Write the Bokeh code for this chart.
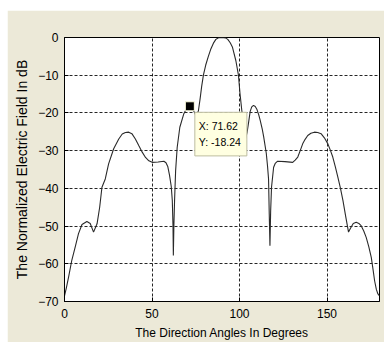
from bokeh.plotting import figure
from bokeh.models import Range1d, FixedTicker, Label
from bokeh.embed import file_html
from bokeh.resources import INLINE

# Direction angle (deg) and normalized field (dB)
angles = [0, 1, 2.3, 4.2, 6.1, 8.0, 10, 12.8, 14.7, 16.6, 18.6, 20.1, 21.4, 23.3,
          25.2, 28.1, 31, 33, 34.8, 36.7, 38.5, 40.5, 42.5, 44.4, 46.3, 48.2, 50.1,
          53.5, 56.8, 58.0, 59.0, 60.0, 61.0, 61.6, 62.0, 62.2, 62.5, 62.9, 63.5,
          64.4, 65.9, 68.2, 70, 71.62, 73, 74.2, 75.2, 76.5, 77.5, 78.4, 79.4, 80.7,
          82.2, 83.5, 85.1, 86.5, 88, 90, 92, 93.3, 94.7, 96, 97.9, 99.4, 100.3,
          101.3, 102.3, 103.4, 104.4, 105.2, 106.1, 107, 108, 109, 109.9, 111, 111.8,
          113, 113.8, 115.3, 116.0, 116.6, 117.0, 117.4, 117.8, 118.3, 119.5, 120.4,
          121.8, 126, 130.4, 131.8, 133.3, 134.7, 136.1, 137.5, 139, 140.8, 142.8,
          144.7, 146.6, 148.5, 150.5, 152, 153.3, 154.7, 156.2, 157.7, 159.1, 160.7,
          162.3, 163.5, 165, 166.7, 168.2, 169.5, 171, 172.4, 173.9, 175.3, 176.3,
          177.2, 178.2, 179.1, 180]
field_db = [-68.5, -66.5, -63.6, -59, -55.6, -52, -49.6, -48.8, -49.3, -51.6, -49.4, -45,
            -39.7, -37.5, -33.5, -29.5, -26.9, -25.6, -25.2, -25.1, -25.5, -26.9, -28.7,
            -30.4, -31.8, -32.7, -33.1, -33.0, -32.8, -33.2, -34.2, -36.5, -39.5, -43.2,
            -50, -57.8, -50, -43.2, -35.3, -29.1, -23.8, -20.2, -18.6, -18.24, -18.9,
            -19.8, -20.8, -19.5, -16.2, -12.9, -9.9, -7.3, -5, -3.2, -1.5, -0.5, -0.05,
            0, -0.1, -0.5, -1.4, -2.6, -6.1, -10, -14.9, -19.3, -22.8, -27, -25,
            -22.5, -19.6, -18.4, -18, -18.3, -19, -20.5, -21.9, -24.3, -26.3, -30.7,
            -34, -37.5, -46.8, -55.2, -46, -39.7, -34.4, -33.4, -32.8, -32.9, -33.1,
            -32.5, -31.7, -30, -28.2, -27, -26, -25.4, -25.1, -25.2, -25.5, -26.6,
            -28.2, -30, -31.7, -34.2, -37, -40, -43.2, -47.5, -51.6, -50.5, -49.3, -49,
            -49.3, -49.9, -51.3, -53, -55.5, -58.3, -61.5, -64.5, -66.8, -68, -68.5]

x_ticks = [0, 50, 100, 150]
y_ticks = [-70, -60, -50, -40, -30, -20, -10, 0]

tip_x = [71.62]
tip_y = [-18.24]
tip_text = "X: 71.62\nY: -18.24"

BG = "#ECE9D8"
FONT = "Liberation Sans"

p = figure(width=377, height=332, output_backend="svg", toolbar_location=None,
           x_range=Range1d(0, 180), y_range=Range1d(-70, 0),
           min_border_left=57, min_border_right=5, min_border_top=27,
           min_border_bottom=40)
p.styles = {"margin-left": "7px", "margin-top": "10px"}
p.border_fill_color = BG
p.background_fill_color = "white"
p.outline_line_color = "black"
p.outline_line_width = 1

p.line(angles, field_db, line_color="#2a2a2a", line_width=1.1)

p.scatter(tip_x, tip_y, marker="square", size=9, fill_color="black",
          line_color="#FFFFE1", line_width=1)

lbl = Label(x=tip_x[0], y=tip_y[0], text=tip_text, x_offset=5, y_offset=-6,
            text_align="left", text_baseline="top", text_font=FONT,
            text_font_size="10.5px", text_color="black",
            background_fill_color="#FFFFE1", border_line_color="#BDBDA0",
            padding=(4, 6, 8, 8), text_line_height=1.3)
p.add_layout(lbl)

for ax in (p.xaxis[0], p.yaxis[0]):
    ax.major_label_text_font = FONT
    ax.major_label_text_font_size = "12px"
    ax.major_label_text_color = "black"
    ax.axis_label_text_font = FONT
    ax.axis_label_text_font_style = "normal"
    ax.axis_label_text_color = "black"
    ax.major_tick_in = 4
    ax.major_tick_out = 0
    ax.minor_tick_in = 0
    ax.minor_tick_out = 0
    ax.axis_line_color = "black"
    ax.major_tick_line_color = "black"

p.xaxis.ticker = FixedTicker(ticks=x_ticks)
p.yaxis.ticker = FixedTicker(ticks=y_ticks)
p.xaxis.axis_label = "The Direction Angles In Degrees"
p.yaxis.axis_label = "The Normalized Electric Field In dB"
p.xaxis.axis_label_text_font_size = "12px"
p.yaxis.axis_label_text_font_size = "14px"
p.xaxis.major_label_standoff = 7
p.yaxis.major_label_standoff = 6
p.xaxis.axis_label_standoff = 5
p.yaxis.axis_label_standoff = 5

for g in (p.xgrid[0], p.ygrid[0]):
    g.grid_line_color = "black"
    g.grid_line_dash = "3 2"
    g.grid_line_width = 1
    g.grid_line_alpha = 0.85

open("out.html", "w").write(file_html(p, INLINE))
